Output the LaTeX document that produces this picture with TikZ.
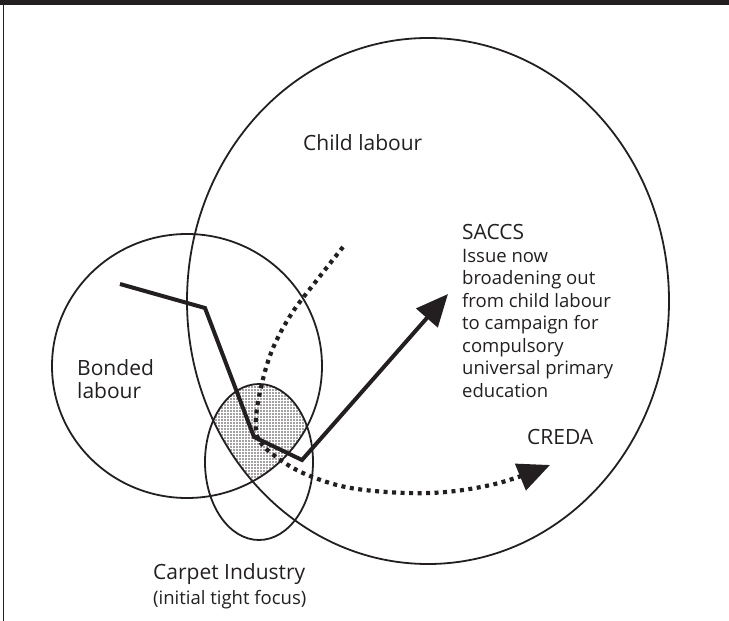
\documentclass[tikz,border=0pt]{standalone}
\usepackage{fontspec}
\setmainfont{Open Sans}
\usetikzlibrary{arrows.meta,patterns.meta}
\definecolor{ink}{HTML}{231F20}
\tikzset{
  ring/.style={draw=ink, line width=1.8pt},
  route/.style={draw=ink, line width=4pt, line join=miter},
  dotroute/.style={draw=ink, line width=4.2pt, dash pattern=on 4pt off 4.5pt},
  bighead/.style={-{Triangle[length=32pt,width=28pt]}},
  label/.style={anchor=base west, inner sep=0pt, text=ink, font=\fontsize{21}{22.5}\selectfont},
  smalllabel/.style={anchor=base west, inner sep=0pt, text=ink, font=\fontsize{18.5}{22.5}\selectfont, align=left},
}
\begin{document}
\begin{tikzpicture}[x=1pt,y=-1pt]
\useasboundingbox (0,0) rectangle (729,621);
% frame: heavy top rule and thin left rule
\fill[ink] (0,0) rectangle (729,4.5);
\draw[ink, line width=1.5pt] (3.5,0) -- (3.5,621);

% stippled overlap of the three areas
\begin{scope}
  \clip (428,301) ellipse [x radius=241pt, y radius=263pt];
  \clip (187,366) ellipse [x radius=135pt, y radius=132pt];
  \fill[pattern={Dots[distance=3pt,radius=0.8pt]}, pattern color=ink!85]
    (259,462) ellipse [x radius=54pt, y radius=78pt];
\end{scope}

% the three areas
\draw[ring] (428,301) ellipse [x radius=241pt, y radius=263pt];
\draw[ring] (187,366) ellipse [x radius=135pt, y radius=132pt];
\draw[ring] (259,462) ellipse [x radius=54pt, y radius=78pt];

% solid route towards SACCS
\coordinate (s0) at (120,284);
\coordinate (s1) at (205,308);
\coordinate (s2) at (254,437);
\coordinate (s3) at (302,460);
\coordinate (s4) at (448,294);
\draw[route, bighead] (s0) -- (s1) -- (s2) -- (s3) -- (s4);

% dotted route towards CREDA
\draw[dotroute, bighead] plot[smooth, tension=0.6] coordinates {
  (343,247) (317,280) (292,313) (273,348) (262,383) (256,418) (259,440)
  (279,459) (310,476) (357,489) (430,493) (495,484) (550,465)};

% labels (multi-line nodes sit on the baseline of their last line)
\node[label] (child) at (303,150) {Child labour};
\node[label, align=left] (bonded) at (77,398) {Bonded\\labour};
\node[label] (saccs) at (462,239) {SACCS};
\node[smalllabel] (issue) at (462,397) {Issue now\\broadening out\\from child labour\\to campaign for\\compulsory\\universal primary\\education};
\node[label] (creda) at (527,444) {CREDA};
\node[label] (carpet) at (153,579) {Carpet Industry};
\node[smalllabel] (focus) at (153,604) {(initial tight focus)};
\end{tikzpicture}
\end{document}
